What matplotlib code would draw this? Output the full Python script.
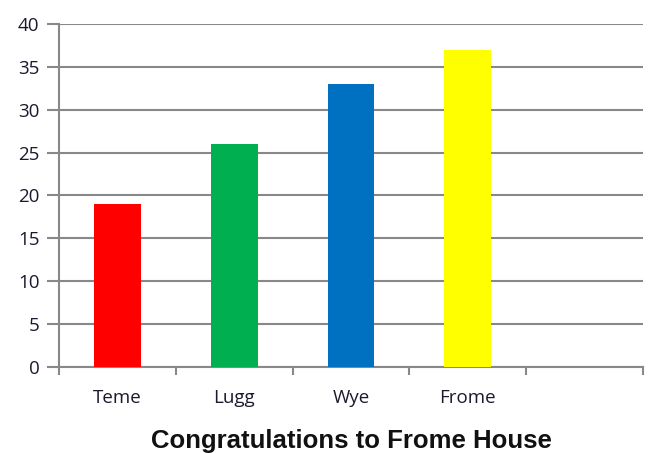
import numpy as np
import matplotlib.pyplot as plt

# data
houses = ["Teme", "Lugg", "Wye", "Frome"]
points = [19, 26, 33, 37]
colours = ["#ff0000", "#00b050", "#0070c0", "#ffff00"]
n_slots = 5  # chart keeps an empty fifth category slot

grid_col = "#888888"
text_col = "#1a1a2e"

fig = plt.figure(figsize=(6.54, 4.53), dpi=100)
ax = fig.add_axes([59/654, 1 - 367/453, (643 - 59)/654, (367 - 24)/453])

x = np.arange(len(houses))
ax.bar(x, points, width=0.4, color=colours, zorder=3)

ax.set_xlim(-0.5, n_slots - 0.5)
ax.set_ylim(0, 40)
ax.set_yticks(np.arange(0, 41, 5))
ax.yaxis.grid(True, color=grid_col, linewidth=1.5, zorder=0)

ax.set_xticks(x)
ax.set_xticklabels(houses)
ax.set_xticks(np.arange(-0.5, n_slots, 1), minor=True)
ax.tick_params(axis="x", which="major", length=0, pad=16,
               labelsize=13.5, labelcolor=text_col)
ax.tick_params(axis="x", which="minor", length=6, width=1.5, color=grid_col)
ax.tick_params(axis="y", length=9, width=1.5, color=grid_col, pad=5,
               labelsize=13.5, labelcolor=text_col)
for lab in ax.get_xticklabels() + ax.get_yticklabels():
    lab.set_family("Open Sans")

for s in ["top", "right"]:
    ax.spines[s].set_visible(False)
for s in ["left", "bottom"]:
    ax.spines[s].set_color(grid_col)
    ax.spines[s].set_linewidth(1.5)

ax.set_xlabel("Congratulations to Frome House", fontsize=18.5, fontweight="bold",
              family="Liberation Sans", color="#111111", labelpad=16)

fig.savefig("out.png", dpi=100)
